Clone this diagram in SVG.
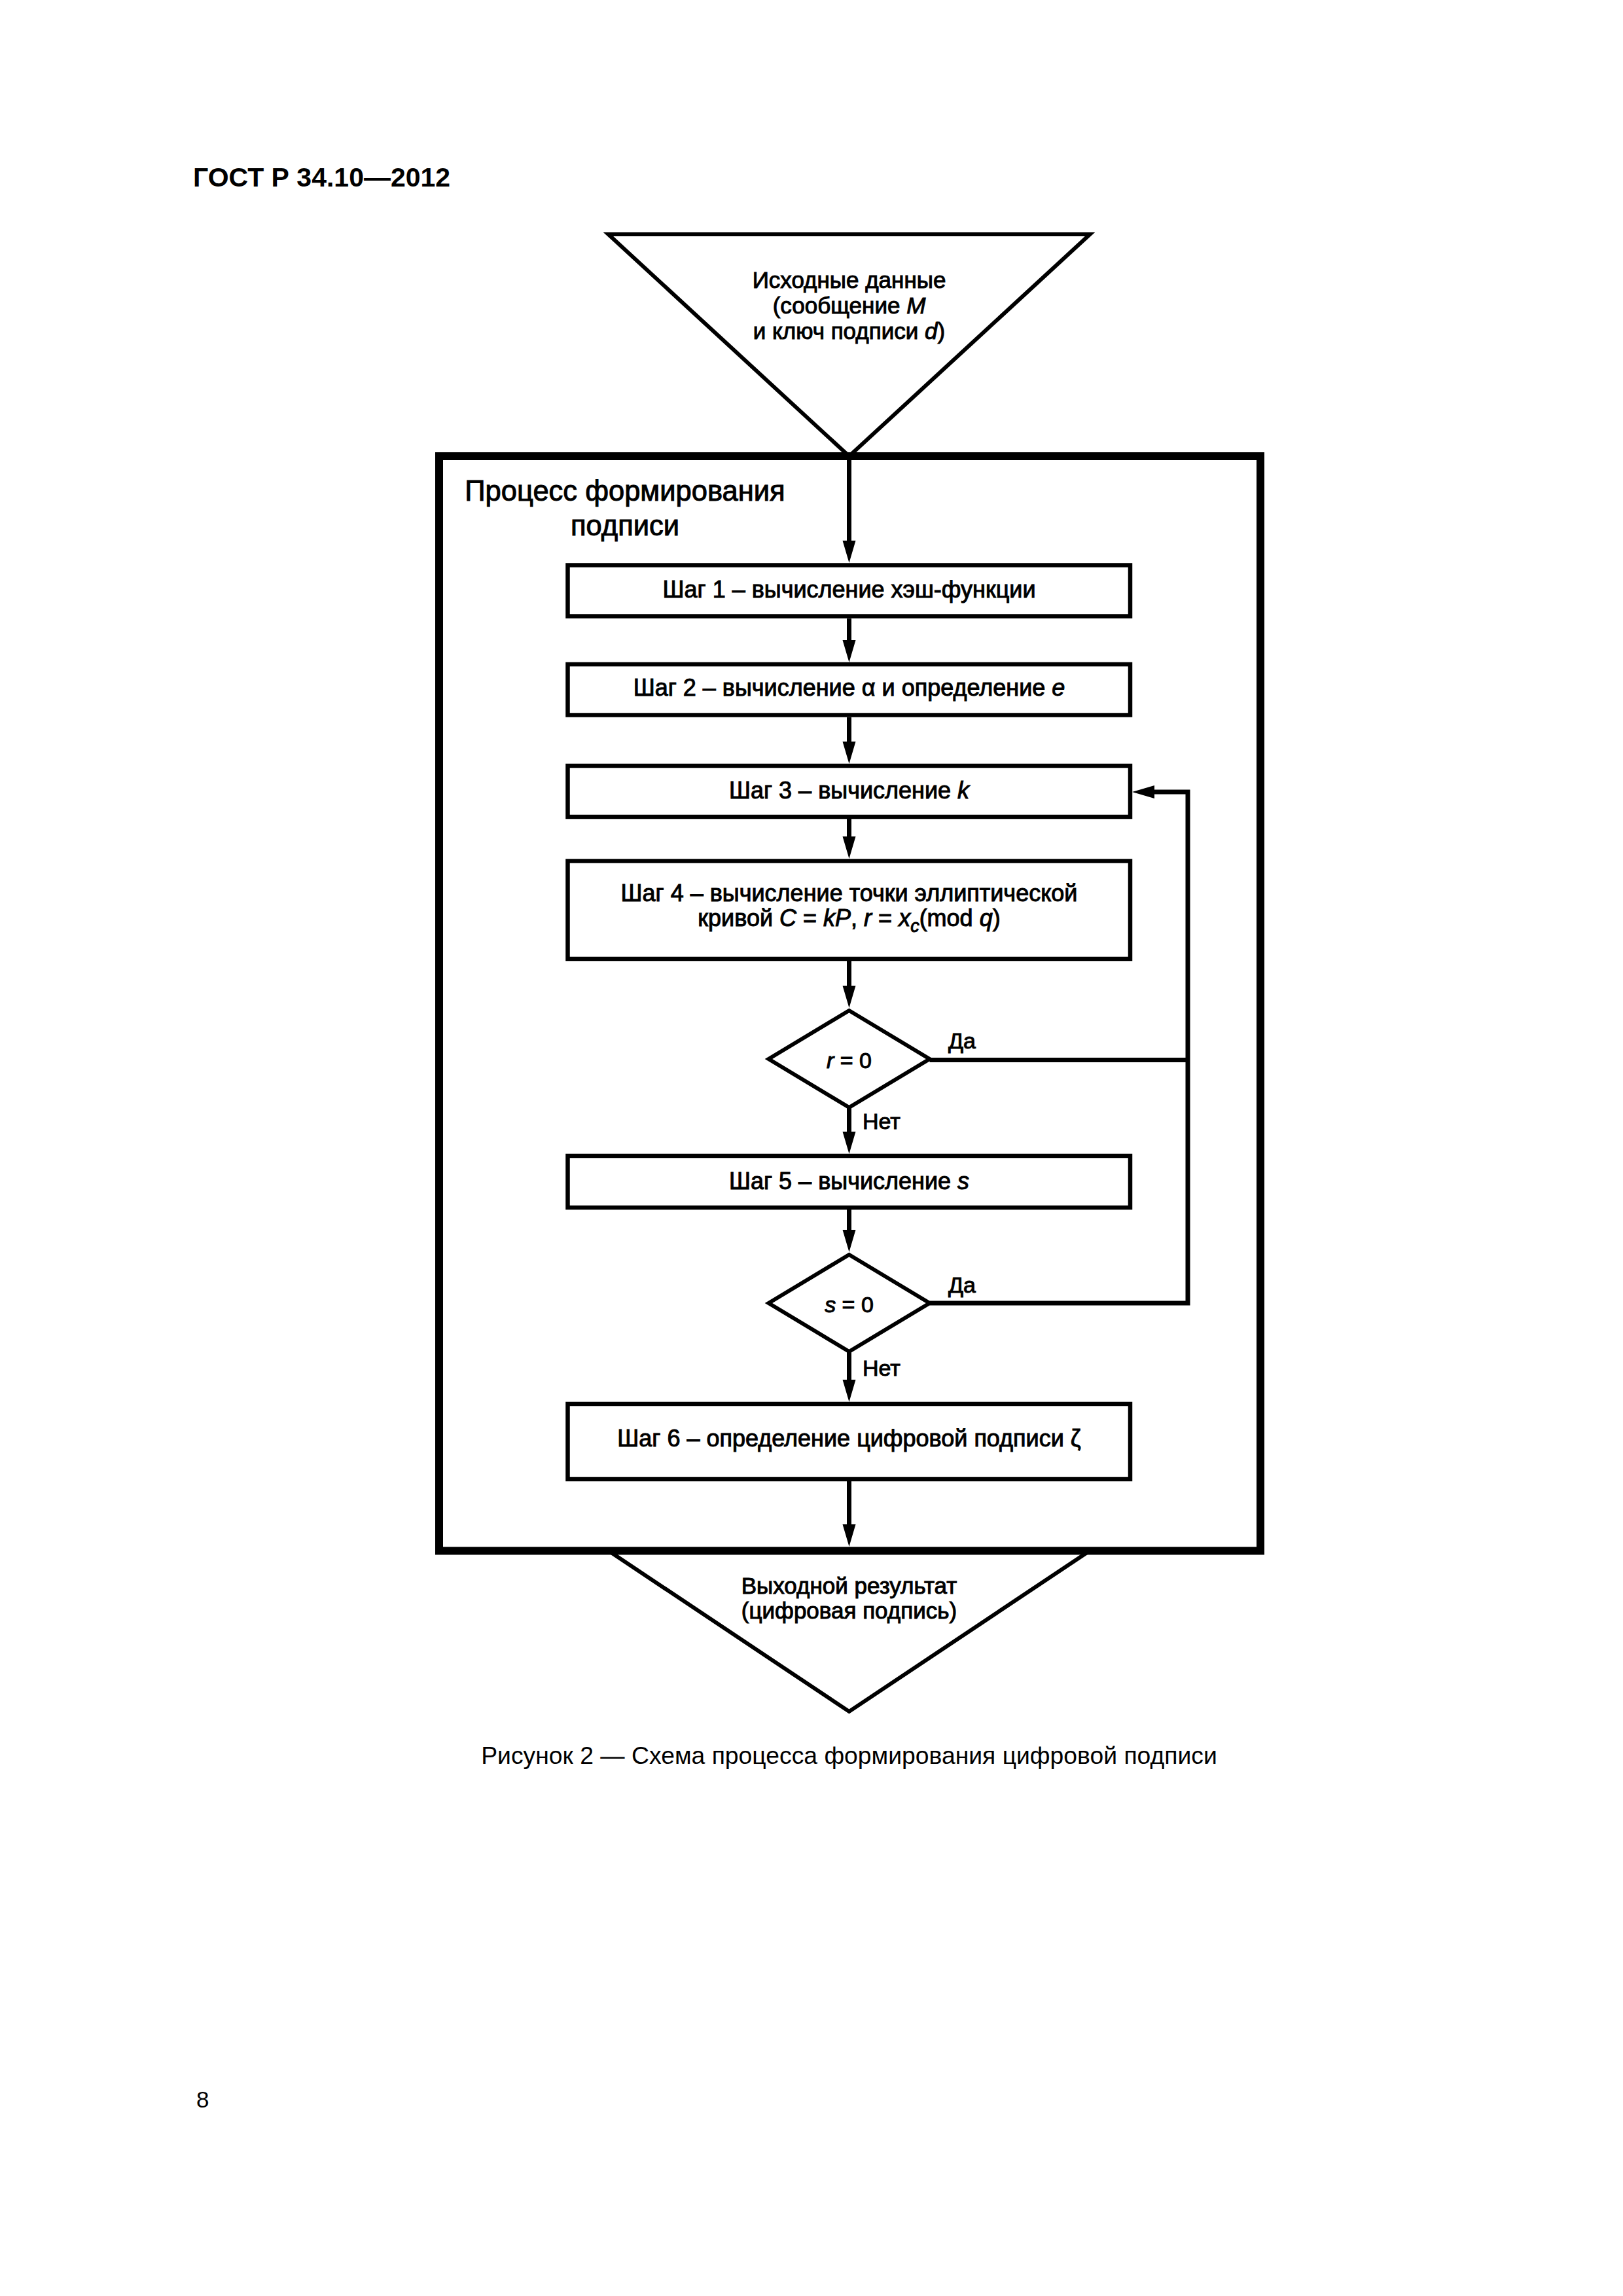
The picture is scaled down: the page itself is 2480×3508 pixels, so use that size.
<svg xmlns="http://www.w3.org/2000/svg" width="2480" height="3508" viewBox="0 0 2480 3508">
<style>
text{font-family:"Liberation Sans",Arial,sans-serif;fill:#000}
.t,.tri,.lbl,.hd{stroke:#000;stroke-width:1}
.t{font-size:36px;text-anchor:middle}
.tri{font-size:35px;text-anchor:middle}
.lbl{font-size:34px}
.hd{font-size:43.5px;text-anchor:middle}
.i{font-style:italic}
.box{fill:#fff;stroke:#000;stroke-width:6.5}
.shape{fill:#fff;stroke:#000;stroke-width:6;stroke-linejoin:miter}
.frame{fill:none;stroke:#000;stroke-width:12}
.con{fill:none;stroke:#000;stroke-width:7}
</style>
<defs>
<marker id="ah" markerUnits="userSpaceOnUse" markerWidth="36" markerHeight="22" refX="0" refY="10" orient="auto" overflow="visible">
<path d="M0,0 L34,10 L0,20 Z" fill="#000"/>
</marker>
</defs>
<rect width="2480" height="3508" fill="#fff"/>
<text x="295" y="285" style="font-size:41px;font-weight:bold">ГОСТ Р 34.10—2012</text>

<g id="input">
<polygon class="shape" points="929.5,358 1665.5,358 1297.5,697"/>
<text class="tri" x="1297.5" y="440">Исходные данные</text>
<text class="tri" x="1297.5" y="479">(сообщение <tspan class="i">M</tspan></text>
<text class="tri" x="1297.5" y="518">и ключ подписи <tspan class="i">d</tspan>)</text>
</g>

<g id="output">
<polygon class="shape" points="930,2369.5 1665,2369.5 1297.5,2615"/>
<text class="tri" x="1297.5" y="2435">Выходной результат</text>
<text class="tri" x="1297.5" y="2473">(цифровая подпись)</text>
</g>

<g id="process">
<rect class="frame" x="671" y="697" width="1255" height="1672.5"/>
<text class="hd" x="955" y="765">Процесс формирования</text>
<text class="hd" x="955" y="818">подписи</text>
</g>

<g id="step1">
<rect class="box" x="867.5" y="863.5" width="859.5" height="78"/>
<text class="t" x="1297.5" y="913">Шаг 1 – вычисление хэш-функции</text>
</g>
<g id="step2">
<rect class="box" x="867.5" y="1015" width="859.5" height="77.5"/>
<text class="t" x="1297.5" y="1063">Шаг 2 – вычисление α и определение <tspan class="i">e</tspan></text>
</g>
<g id="step3">
<rect class="box" x="867.5" y="1170" width="859.5" height="78"/>
<text class="t" x="1297.5" y="1220">Шаг 3 – вычисление <tspan class="i">k</tspan></text>
</g>
<g id="step4">
<rect class="box" x="867.5" y="1315.5" width="859.5" height="149.5"/>
<text class="t" x="1297.5" y="1377">Шаг 4 – вычисление точки эллиптической</text>
<text class="t" x="1297.5" y="1415">кривой <tspan class="i">C</tspan> = <tspan class="i">kP</tspan>, <tspan class="i">r</tspan> = <tspan class="i">x</tspan><tspan class="i" dy="9" style="font-size:27px">c</tspan><tspan dy="-9">(mod </tspan><tspan class="i">q</tspan>)</text>
</g>
<g id="check_r">
<polygon class="shape" points="1297.5,1544 1420.5,1618 1297.5,1692 1174.5,1618"/>
<text class="lbl" x="1297.5" y="1632" text-anchor="middle"><tspan class="i">r</tspan> = 0</text>
</g>
<g id="step5">
<rect class="box" x="867.5" y="1766" width="859.5" height="79"/>
<text class="t" x="1297.5" y="1817">Шаг 5 – вычисление <tspan class="i">s</tspan></text>
</g>
<g id="check_s">
<polygon class="shape" points="1297.5,1917 1420.5,1991 1297.5,2065 1174.5,1991"/>
<text class="lbl" x="1297.5" y="2005" text-anchor="middle"><tspan class="i">s</tspan> = 0</text>
</g>
<g id="step6">
<rect class="box" x="867.5" y="2145" width="859.5" height="115"/>
<text class="t" x="1297.5" y="2210">Шаг 6 – определение цифровой подписи ζ</text>
</g>

<g id="connectors">
<path class="con" d="M1297.5 703 V826" marker-end="url(#ah)"/>
<path class="con" d="M1297.5 945 V978" marker-end="url(#ah)"/>
<path class="con" d="M1297.5 1096 V1133" marker-end="url(#ah)"/>
<path class="con" d="M1297.5 1251 V1278" marker-end="url(#ah)"/>
<path class="con" d="M1297.5 1468 V1506" marker-end="url(#ah)"/>
<path class="con" d="M1297.5 1692 V1729" marker-end="url(#ah)"/>
<path class="con" d="M1297.5 1848 V1879" marker-end="url(#ah)"/>
<path class="con" d="M1297.5 2065 V2108" marker-end="url(#ah)"/>
<path class="con" d="M1297.5 2263 V2329" marker-end="url(#ah)"/>
<path class="con" d="M1420.5 1619.5 H1815"/>
<path class="con" d="M1420.5 1991 H1815 V1210 H1764" marker-end="url(#ah)"/>
<text class="lbl" x="1449" y="1602">Да</text>
<text class="lbl" x="1449" y="1975">Да</text>
<text class="lbl" x="1318" y="1725">Нет</text>
<text class="lbl" x="1318" y="2102">Нет</text>
</g>

<text x="1297.5" y="2695" style="font-size:37.3px;text-anchor:middle">Рисунок 2 — Схема процесса формирования цифровой подписи</text>
<text x="300" y="3220" style="font-size:35px">8</text>
</svg>
